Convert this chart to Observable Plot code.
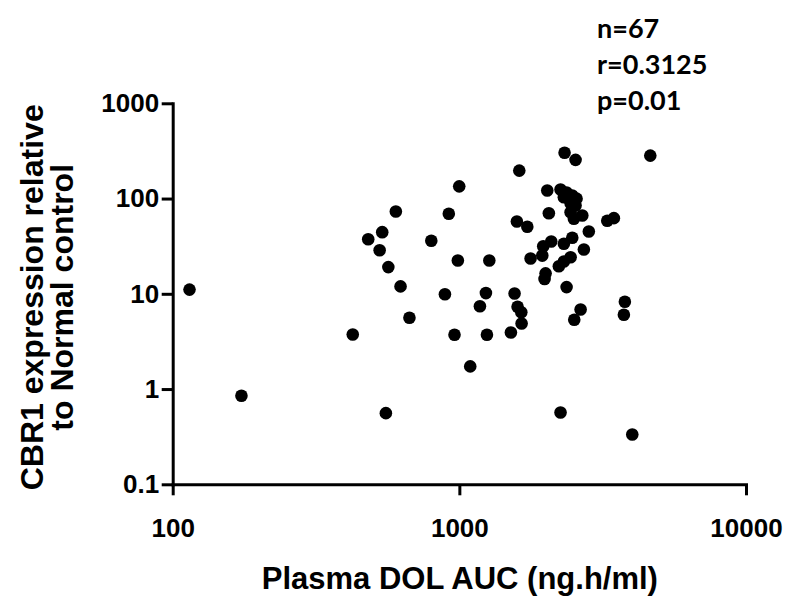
<!DOCTYPE html>
<html>
<head>
<meta charset="utf-8">
<script src="https://cdn.jsdelivr.net/npm/d3@7"></script>
<script src="https://cdn.jsdelivr.net/npm/@observablehq/plot@0.6"></script>
<style>
  html, body { margin: 0; padding: 0; background: #fff; }
  #wrap { position: relative; width: 800px; height: 609px; }
  #stats { position: absolute; left: 597px; top: 10px; font-family: Lato, "Open Sans", sans-serif; font-weight: bold; font-size: 27px; line-height: 36px; color: #000; }
  svg { overflow: visible; }
</style>
</head>
<body>
<div id="wrap">
  <div id="chart"></div>
  <div id="stats"></div>
</div>
<script>
// Plasma DOL AUC (ng.h/ml)
const auc = [114, 173, 423, 552, 479, 536, 525, 598, 563, 621, 667, 795, 887, 915, 958,
  2319, 2533, 4617, 1612, 995, 2018, 2245, 2306, 2467, 2434, 2533, 2434, 2674, 2499, 2044,
  1581, 1719, 3268, 3446, 2818, 2467, 2306, 2084, 1954, 1939, 2708, 984, 1267, 1765, 2434,
  2306, 2215, 1991, 1975, 2357, 1233, 1552, 1175, 1590, 1638, 1642, 1507, 1243, 2638, 2507,
  3764, 3734, 1087, 2245, 3995, 2357, 2554];
// CBR1 expression relative to Normal control
const cbr1 = [11.2, 0.86, 3.78, 0.565, 37.9, 44.9, 29.0, 74.0, 19.3, 12.1, 5.67, 36.5, 10.0, 70.0, 3.76,
  306, 258, 286, 199, 136, 123, 126, 104.5, 109, 90.4, 85.6, 72.8, 67.2, 62.0, 71.0,
  58.1, 51.1, 59.1, 63.0, 45.6, 39.2, 33.9, 35.8, 32.0, 25.5, 29.5, 22.6, 22.6, 23.8, 24.5,
  22.1, 19.7, 16.6, 14.5, 11.9, 10.3, 10.2, 7.5, 7.39, 6.49, 4.94, 3.97, 3.76, 6.93, 5.40,
  8.34, 6.09, 1.75, 0.574, 0.337, 117, 101];
const xTicks = [100, 1000, 10000];
const yTicks = [0.1, 1, 10, 100, 1000];
const xTitle = "Plasma DOL AUC (ng.h/ml)";
const yTitle = "CBR1 expression relative\nto Normal control";
const statsLines = ["n=67", "r=0.3125", "p=0.01"];

const data = auc.map((x, i) => ({x, y: cbr1[i]}));
const font = "'Liberation Sans', Arial, sans-serif";

const chart = Plot.plot({
  width: 800,
  height: 609,
  marginLeft: 172.7,
  marginRight: 54,
  marginTop: 103.3,
  marginBottom: 124.7,
  style: {fontFamily: font, fontWeight: "bold", color: "#000", background: "#fff"},
  x: {type: "log", domain: [100, 10000]},
  y: {type: "log", domain: [0.1, 1000]},
  marks: [
    Plot.axisX({ticks: xTicks, tickFormat: d => String(d), tickSize: 11, tickPadding: 23, strokeWidth: 3, fontSize: 26, fontWeight: "bold", label: null}),
    Plot.axisY({ticks: yTicks, tickFormat: d => String(d), tickSize: 11, tickPadding: 3, strokeWidth: 3, fontSize: 26, fontWeight: "bold", label: null}),
    Plot.frame({anchor: "left", strokeWidth: 3, strokeLinecap: "square"}),
    Plot.frame({anchor: "bottom", strokeWidth: 3, strokeLinecap: "square"}),
    Plot.dot(data, {x: "x", y: "y", r: 6.3, fill: "#000", stroke: "none"}),
    Plot.text([xTitle], {frameAnchor: "bottom", dy: 94, textAnchor: "middle", lineAnchor: "middle", fontSize: 31, fontWeight: "bold", fill: "#000"}),
    Plot.text([yTitle], {frameAnchor: "left", dx: -124.7, dy: 3, rotate: -90, textAnchor: "middle", lineAnchor: "middle", lineHeight: 0.95, fontSize: 32, fontWeight: "bold", fill: "#000"})
  ]
});
document.getElementById("chart").appendChild(chart);
document.getElementById("stats").innerHTML = statsLines.map(s => `<div>${s}</div>`).join("");
</script>
</body>
</html>
